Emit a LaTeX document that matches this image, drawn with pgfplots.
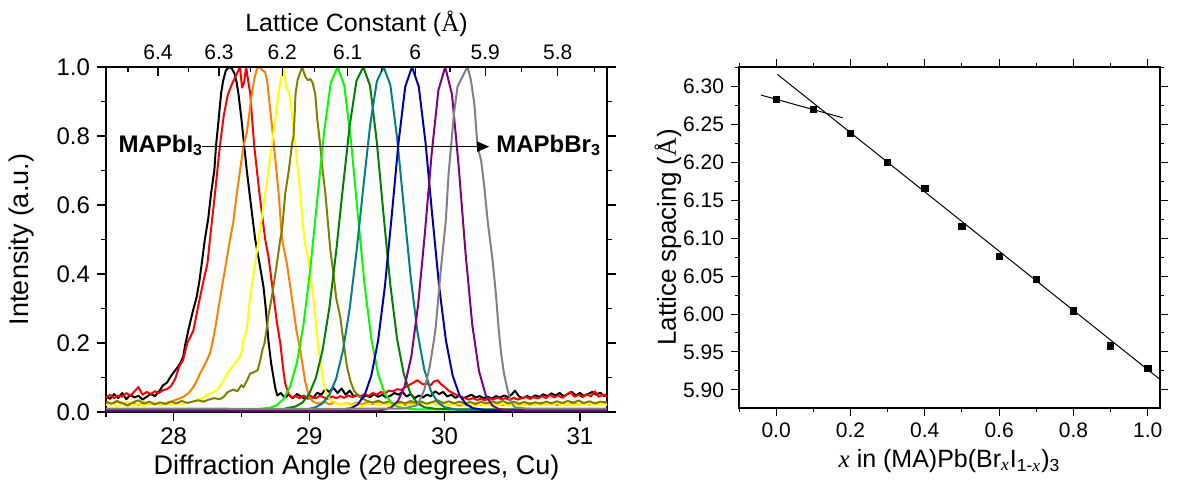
\documentclass[border=0pt]{standalone}
\usepackage{fontspec}
\setmainfont{Liberation Sans}
\newfontfamily\serif{Liberation Serif}
\usepackage{pgfplots}
\pgfplotsset{compat=1.18}
\usetikzlibrary{arrows.meta}
\definecolor{cOrange}{RGB}{255,128,0}
\definecolor{cYellow}{RGB}{255,255,0}
\definecolor{cOlive}{RGB}{128,128,0}
\definecolor{cLime}{RGB}{0,255,0}
\definecolor{cDGreen}{RGB}{0,128,0}
\definecolor{cTeal}{RGB}{0,128,128}
\definecolor{cNavy}{RGB}{0,0,170}
\definecolor{cPurple}{RGB}{128,0,128}
\definecolor{cGray}{RGB}{128,128,128}
\begin{document}
\begin{tikzpicture}
\path[use as bounding box] (0,0) rectangle (597pt,242.5pt);
% ---------------- left panel ----------------
\begin{axis}[at={(53pt,36.5pt)}, anchor=south west, scale only axis,
  width=250.5pt, height=172.5pt,
  xmin=27.5, xmax=31.2, ymin=0, ymax=1,
  xtick={28,29,30,31}, minor xtick={27.5,28.5,29.5,30.5},
  ytick={0,0.2,0.4,0.6,0.8,1.0}, yticklabels={0.0,0.2,0.4,0.6,0.8,1.0},
  minor ytick={0.1,0.3,0.5,0.7,0.9},
  tick align=outside, xtick pos=left, ytick pos=both, yticklabel pos=left,
  major tick length=4.5pt, minor tick length=2.5pt,
  tick style={black, line width=0.6pt}, axis line style={line width=0.8pt},
  /pgf/number format/assume math mode=true,
  tick label style={font=\fontsize{12}{12}\selectfont},
  xlabel={Diffraction Angle (2{\serif θ} degrees, Cu)}, ylabel={Intensity (a.u.)},
  label style={font=\fontsize{13.5}{14}\selectfont},
  xlabel style={at={(axis description cs:0.5,-0.162)}, anchor=center},
  ylabel style={at={(axis description cs:-0.168,0.5)}, anchor=center},
  every axis plot/.append style={line width=1pt, line join=round},
]
\addplot[black] coordinates {
(27.50,0.045) (27.53,0.038) (27.56,0.052) (27.59,0.040) (27.62,0.055) (27.65,0.037) (27.68,0.050) (27.71,0.042) (27.74,0.047) (27.77,0.036)
(27.80,0.044) (27.83,0.052) (27.86,0.046) (27.89,0.058) (27.92,0.077) (27.95,0.085) (27.98,0.104) (28.00,0.115) (28.03,0.130) (28.05,0.142)
(28.07,0.160) (28.085,0.195) (28.11,0.24) (28.14,0.29) (28.17,0.334) (28.19,0.38) (28.207,0.43) (28.23,0.50) (28.255,0.56) (28.276,0.634)
(28.30,0.70) (28.313,0.774) (28.33,0.84) (28.35,0.923) (28.365,0.96) (28.385,0.99) (28.41,1.0) (28.43,0.995) (28.45,0.98) (28.465,0.955)
(28.478,0.923) (28.50,0.85) (28.52,0.774) (28.54,0.70) (28.56,0.634) (28.58,0.57) (28.602,0.50) (28.634,0.43) (28.663,0.363) (28.68,0.30)
(28.70,0.205) (28.72,0.14) (28.737,0.10) (28.75,0.07) (28.765,0.048) (28.79,0.055) (28.82,0.042) (28.85,0.050) (28.88,0.040) (28.91,0.052)
(28.94,0.045) (28.97,0.038) (29.00,0.048) (29.03,0.041) (29.06,0.056) (29.09,0.050) (29.12,0.066) (29.15,0.058) (29.18,0.070) (29.21,0.055)
(29.24,0.068) (29.27,0.050) (29.30,0.062) (29.33,0.045) (29.36,0.050) (29.39,0.040) (29.42,0.048) (29.45,0.043) (29.48,0.052) (29.51,0.044)
(29.54,0.050) (29.57,0.042) (29.60,0.047) (29.63,0.055) (29.66,0.050) (29.69,0.058) (29.72,0.045) (29.75,0.052) (29.78,0.040) (29.81,0.048)
(29.84,0.042) (29.87,0.050) (29.90,0.046) (29.93,0.060) (29.96,0.052) (29.99,0.058) (30.02,0.045) (30.05,0.050) (30.08,0.041) (30.11,0.047)
(30.14,0.040) (30.17,0.045) (30.20,0.050) (30.23,0.042) (30.26,0.046) (30.29,0.040) (30.32,0.044) (30.35,0.039) (30.38,0.046) (30.41,0.042)
(30.44,0.048) (30.47,0.043) (30.50,0.052) (30.52,0.062) (30.55,0.045) (30.58,0.040) (30.61,0.046) (30.64,0.041) (30.67,0.048) (30.70,0.044)
(30.73,0.051) (30.76,0.046) (30.79,0.054) (30.82,0.048) (30.85,0.055) (30.88,0.046) (30.91,0.052) (30.94,0.058) (30.97,0.048) (31.00,0.055)
(31.03,0.046) (31.06,0.052) (31.09,0.058) (31.12,0.050) (31.15,0.056) (31.18,0.046) (31.20,0.052)};
\addplot[red] coordinates {
(27.50,0.042) (27.53,0.050) (27.56,0.040) (27.59,0.048) (27.62,0.044) (27.65,0.055) (27.68,0.046) (27.71,0.060) (27.74,0.072) (27.77,0.050)
(27.80,0.058) (27.83,0.052) (27.86,0.060) (27.89,0.055) (27.92,0.063) (27.95,0.066) (27.98,0.075) (28.01,0.095) (28.04,0.131) (28.07,0.151)
(28.10,0.20) (28.12,0.215) (28.146,0.237) (28.17,0.285) (28.195,0.334) (28.22,0.38) (28.249,0.43) (28.273,0.52) (28.29,0.58) (28.305,0.634)
(28.342,0.774) (28.37,0.86) (28.40,0.92) (28.43,0.95) (28.46,0.975) (28.49,1.0) (28.505,0.94) (28.52,0.955) (28.535,1.0) (28.55,0.96)
(28.565,0.923) (28.594,0.774) (28.633,0.634) (28.676,0.50) (28.70,0.45) (28.738,0.334) (28.762,0.26) (28.787,0.20) (28.81,0.12) (28.824,0.082)
(28.848,0.053) (28.87,0.042) (28.90,0.046) (28.93,0.040) (28.96,0.048) (28.99,0.038) (29.02,0.044) (29.05,0.040) (29.08,0.047) (29.11,0.042)
(29.14,0.038) (29.17,0.045) (29.20,0.040) (29.23,0.046) (29.26,0.041) (29.29,0.048) (29.32,0.043) (29.35,0.050) (29.38,0.045) (29.41,0.052)
(29.44,0.047) (29.47,0.055) (29.50,0.050) (29.53,0.058) (29.56,0.054) (29.59,0.062) (29.62,0.060) (29.65,0.066) (29.68,0.064) (29.71,0.072)
(29.74,0.078) (29.77,0.085) (29.80,0.092) (29.82,0.086) (29.84,0.080) (29.87,0.082) (29.90,0.078) (29.92,0.088) (29.95,0.092) (29.97,0.082)
(30.00,0.073) (30.03,0.062) (30.06,0.055) (30.09,0.049) (30.12,0.044) (30.15,0.040) (30.18,0.036) (30.21,0.040) (30.24,0.035) (30.27,0.038)
(30.30,0.034) (30.33,0.040) (30.36,0.036) (30.39,0.042) (30.42,0.037) (30.45,0.040) (30.48,0.035) (30.51,0.041) (30.54,0.036) (30.57,0.040)
(30.60,0.044) (30.63,0.038) (30.66,0.043) (30.69,0.039) (30.72,0.046) (30.75,0.040) (30.78,0.050) (30.81,0.042) (30.84,0.048) (30.87,0.041)
(30.90,0.050) (30.93,0.058) (30.96,0.044) (30.99,0.050) (31.02,0.043) (31.05,0.052) (31.08,0.045) (31.11,0.060) (31.14,0.044) (31.17,0.050)
(31.20,0.046)};
\addplot[cOrange] coordinates {
(27.50,0.028) (27.54,0.022) (27.58,0.030) (27.62,0.024) (27.66,0.018) (27.70,0.026) (27.74,0.020) (27.78,0.028) (27.82,0.022) (27.86,0.027)
(27.90,0.020) (27.94,0.026) (27.98,0.030) (28.02,0.036) (28.05,0.040) (28.08,0.046) (28.11,0.055) (28.145,0.072) (28.17,0.09) (28.194,0.111)
(28.22,0.13) (28.245,0.15) (28.268,0.17) (28.29,0.208) (28.31,0.25) (28.33,0.30) (28.36,0.37) (28.386,0.43) (28.416,0.50) (28.44,0.55)
(28.465,0.63) (28.49,0.70) (28.515,0.77) (28.54,0.81) (28.56,0.87) (28.577,0.923) (28.595,0.965) (28.615,0.995) (28.635,1.0) (28.655,0.99)
(28.675,0.985) (28.69,0.96) (28.70,0.923) (28.72,0.85) (28.74,0.774) (28.775,0.634) (28.80,0.50) (28.836,0.43) (28.873,0.33) (28.905,0.24)
(28.935,0.179) (28.97,0.09) (29.00,0.043) (29.03,0.030) (29.07,0.024) (29.11,0.030) (29.15,0.022) (29.19,0.028) (29.23,0.020) (29.27,0.026)
(29.31,0.021) (29.35,0.027) (29.39,0.022) (29.43,0.028) (29.47,0.023) (29.51,0.030) (29.55,0.024) (29.59,0.029) (29.63,0.022) (29.67,0.027)
(29.71,0.020) (29.75,0.026) (29.79,0.021) (29.83,0.028) (29.87,0.022) (29.91,0.027) (29.95,0.020) (29.99,0.025) (30.03,0.019) (30.07,0.024)
(30.11,0.018) (30.15,0.023) (30.19,0.019) (30.23,0.025) (30.27,0.020) (30.31,0.026) (30.35,0.021) (30.39,0.027) (30.43,0.020) (30.47,0.025)
(30.51,0.019) (30.55,0.024) (30.59,0.020) (30.63,0.026) (30.67,0.021) (30.71,0.027) (30.75,0.022) (30.79,0.026) (30.83,0.020) (30.87,0.025)
(30.91,0.021) (30.95,0.027) (30.99,0.022) (31.03,0.026) (31.07,0.021) (31.11,0.027) (31.15,0.022) (31.20,0.025)};
\addplot[cYellow] coordinates {
(27.50,0.020) (27.54,0.025) (27.58,0.016) (27.62,0.022) (27.66,0.030) (27.70,0.018) (27.74,0.024) (27.78,0.017) (27.82,0.023) (27.86,0.028)
(27.90,0.019) (27.94,0.025) (27.98,0.020) (28.02,0.026) (28.06,0.021) (28.10,0.028) (28.14,0.030) (28.17,0.034) (28.21,0.040) (28.245,0.049)
(28.28,0.055) (28.32,0.063) (28.36,0.085) (28.393,0.111) (28.43,0.13) (28.467,0.148) (28.49,0.16) (28.503,0.175) (28.515,0.208) (28.54,0.24)
(28.565,0.334) (28.59,0.40) (28.609,0.45) (28.626,0.50) (28.65,0.56) (28.676,0.634) (28.70,0.70) (28.725,0.774) (28.75,0.85) (28.774,0.923)
(28.79,0.96) (28.805,0.99) (28.811,1.0) (28.82,0.965) (28.835,0.935) (28.85,0.93) (28.865,0.89) (28.88,0.84) (28.898,0.774) (28.935,0.634)
(28.965,0.50) (29.00,0.43) (29.03,0.334) (29.056,0.237) (29.07,0.18) (29.085,0.14) (29.108,0.082) (29.13,0.05) (29.157,0.034) (29.19,0.027)
(29.23,0.020) (29.27,0.026) (29.31,0.018) (29.35,0.024) (29.39,0.017) (29.43,0.023) (29.47,0.028) (29.51,0.019) (29.55,0.024) (29.59,0.018)
(29.63,0.025) (29.67,0.020) (29.71,0.027) (29.75,0.019) (29.79,0.024) (29.83,0.030) (29.87,0.021) (29.91,0.026) (29.95,0.019) (29.99,0.025)
(30.03,0.018) (30.07,0.023) (30.11,0.027) (30.15,0.019) (30.19,0.024) (30.23,0.017) (30.27,0.022) (30.31,0.018) (30.35,0.024) (30.39,0.019)
(30.43,0.025) (30.47,0.018) (30.51,0.023) (30.55,0.017) (30.59,0.022) (30.63,0.018) (30.67,0.024) (30.71,0.019) (30.75,0.025) (30.79,0.020)
(30.83,0.026) (30.87,0.019) (30.91,0.024) (30.95,0.018) (30.99,0.023) (31.03,0.020) (31.07,0.025) (31.11,0.019) (31.15,0.024) (31.20,0.020)};
\addplot[cOlive] coordinates {
(27.50,0.030) (27.54,0.024) (27.58,0.032) (27.62,0.026) (27.66,0.020) (27.70,0.028) (27.74,0.034) (27.78,0.024) (27.82,0.030) (27.86,0.022)
(27.90,0.028) (27.94,0.023) (27.98,0.030) (28.02,0.025) (28.06,0.032) (28.10,0.026) (28.14,0.030) (28.18,0.034) (28.22,0.030) (28.26,0.036)
(28.30,0.040) (28.34,0.037) (28.37,0.044) (28.40,0.058) (28.44,0.065) (28.47,0.060) (28.50,0.078) (28.515,0.072) (28.54,0.090) (28.564,0.111)
(28.59,0.115) (28.62,0.121) (28.64,0.151) (28.655,0.18) (28.67,0.198) (28.685,0.237) (28.70,0.28) (28.725,0.334) (28.762,0.43) (28.787,0.50)
(28.80,0.527) (28.824,0.634) (28.85,0.70) (28.873,0.774) (28.885,0.80) (28.893,0.86) (28.90,0.923) (28.915,0.962) (28.93,0.98) (28.949,1.0)
(28.96,0.985) (28.975,0.97) (28.99,0.962) (29.01,0.965) (29.025,0.955) (29.045,0.923) (29.06,0.85) (29.082,0.774) (29.10,0.70) (29.12,0.634)
(29.157,0.469) (29.18,0.40) (29.20,0.33) (29.23,0.276) (29.255,0.20) (29.28,0.131) (29.305,0.09) (29.33,0.063) (29.36,0.048) (29.39,0.040)
(29.43,0.032) (29.47,0.027) (29.51,0.033) (29.55,0.026) (29.59,0.031) (29.63,0.024) (29.67,0.030) (29.71,0.025) (29.75,0.032) (29.79,0.026)
(29.83,0.030) (29.87,0.024) (29.91,0.029) (29.95,0.034) (29.99,0.026) (30.03,0.031) (30.07,0.025) (30.11,0.030) (30.15,0.024) (30.19,0.029)
(30.23,0.023) (30.27,0.030) (30.31,0.025) (30.35,0.031) (30.39,0.026) (30.43,0.032) (30.47,0.025) (30.51,0.030) (30.55,0.024) (30.59,0.029)
(30.63,0.023) (30.67,0.028) (30.71,0.024) (30.75,0.030) (30.79,0.025) (30.83,0.031) (30.87,0.026) (30.91,0.032) (30.95,0.027) (30.99,0.033)
(31.03,0.026) (31.07,0.031) (31.11,0.025) (31.15,0.030) (31.20,0.028)};
\addplot[cLime] coordinates {
(27.5,0.008) (28.0,0.007) (28.5,0.008) (28.61,0.008) (28.71,0.012) (28.76,0.019) (28.81,0.037) (28.86,0.074) (28.91,0.143) (28.96,0.257)
(29.01,0.419) (29.06,0.615) (29.11,0.809) (29.16,0.954) (29.21,1.0) (29.26,0.946) (29.31,0.783) (29.36,0.571) (29.41,0.368) (29.46,0.211)
(29.51,0.109) (29.56,0.052) (29.61,0.025) (29.66,0.014) (29.76,0.008) (30.3,0.007) (31.2,0.008)};
\addplot[cDGreen] coordinates {
(27.5,0.007) (28.5,0.008) (28.80,0.008) (28.90,0.016) (28.95,0.027) (29.00,0.052) (29.05,0.099) (29.10,0.180) (29.15,0.303) (29.20,0.466)
(29.25,0.652) (29.30,0.831) (29.35,0.960) (29.40,1.0) (29.45,0.946) (29.50,0.783) (29.55,0.571) (29.60,0.368) (29.65,0.211) (29.70,0.109)
(29.75,0.052) (29.80,0.025) (29.85,0.014) (29.95,0.008) (31.2,0.007)};
\addplot[cTeal] coordinates {
(27.5,0.006) (28.9,0.006) (29.00,0.009) (29.05,0.014) (29.10,0.025) (29.15,0.050) (29.20,0.097) (29.25,0.178) (29.30,0.301) (29.35,0.464)
(29.40,0.650) (29.45,0.829) (29.50,0.958) (29.55,1.0) (29.60,0.948) (29.65,0.794) (29.70,0.592) (29.75,0.392) (29.80,0.232) (29.85,0.124)
(29.90,0.060) (29.95,0.028) (30.00,0.014) (30.10,0.006) (31.2,0.006)};
\addplot[cNavy] coordinates {
(27.5,0.005) (29.21,0.005) (29.31,0.011) (29.36,0.022) (29.41,0.049) (29.46,0.106) (29.51,0.208) (29.56,0.365) (29.61,0.568) (29.66,0.780)
(29.71,0.943) (29.76,1.0) (29.81,0.943) (29.86,0.780) (29.91,0.568) (29.96,0.365) (30.01,0.208) (30.06,0.106) (30.11,0.049) (30.16,0.022)
(30.21,0.011) (30.31,0.005) (31.2,0.005)};
\addplot[cPurple] coordinates {
(27.5,0.004) (29.50,0.004) (29.555,0.007) (29.605,0.013) (29.655,0.031) (29.705,0.074) (29.755,0.161) (29.805,0.310) (29.855,0.518) (29.905,0.748)
(29.955,0.933) (30.005,1.0) (30.055,0.921) (30.105,0.711) (30.155,0.462) (30.205,0.253) (30.255,0.118) (30.305,0.048) (30.355,0.018) (30.405,0.008)
(30.50,0.004) (31.2,0.004)};
\addplot[cGray] coordinates {
(27.5,0.010) (29.0,0.009) (29.70,0.010) (29.80,0.020) (29.85,0.063) (29.89,0.13) (29.922,0.208) (29.935,0.246) (29.97,0.401) (30.01,0.556)
(30.03,0.69) (30.07,0.865) (30.096,0.943) (30.145,0.982) (30.17,1.0) (30.195,0.962) (30.22,0.894) (30.244,0.769) (30.27,0.73) (30.294,0.653)
(30.318,0.556) (30.355,0.44) (30.38,0.34) (30.40,0.24) (30.418,0.17) (30.44,0.11) (30.466,0.063) (30.49,0.03) (30.52,0.013) (30.6,0.010)
(31.2,0.010)};
\draw[black, line width=0.8pt, -{Triangle[length=6pt,width=5pt]}] (axis cs:28.207,0.769) -- (axis cs:30.33,0.769);
\node[anchor=base east, inner sep=0pt, font=\fontsize{12}{12}\bfseries\selectfont] at (axis cs:28.22,0.753) {MAPbI\textsubscript{3}};
\node[anchor=base west, inner sep=0pt, font=\fontsize{12}{12}\bfseries\selectfont] at (axis cs:30.38,0.753) {MAPbBr\textsubscript{3}};
\end{axis}
% top axis: lattice constant
\begin{axis}[at={(53pt,36.5pt)}, anchor=south west, scale only axis,
  width=250.5pt, height=172.5pt,
  xmin=27.5, xmax=31.2, ymin=0, ymax=1,
  axis x line*=top, hide y axis,
  xtick={27.884,28.335,28.802,29.285,29.784,30.301,30.836},
  xticklabels={6.4,6.3,6.2,6.1,6,5.9,5.8},
  minor xtick={27.662,28.108,28.567,29.042,29.533,30.041,30.567,31.11},
  tick align=inside, major tick length=4.5pt, minor tick length=2.5pt,
  tick style={black, line width=0.6pt}, axis line style={line width=0.8pt},
  tick label style={font=\fontsize{10.5}{10.5}\selectfont},
  xlabel={Lattice Constant ({\serif Å})},
  xlabel style={font=\fontsize{12.5}{13}\selectfont, at={(axis description cs:0.5,1.125)}, anchor=center},
]
\end{axis}
% ---------------- right panel ----------------
\begin{axis}[at={(369.5pt,38.5pt)}, anchor=south west, scale only axis,
  width=210.5pt, height=170.5pt,
  xmin=-0.1, xmax=1.033, ymin=5.876, ymax=6.326,
  xtick={0,0.2,0.4,0.6,0.8,1.0}, xticklabels={0.0,0.2,0.4,0.6,0.8,1.0},
  minor xtick={-0.1,0.1,0.3,0.5,0.7,0.9},
  ytick={5.90,5.95,6.00,6.05,6.10,6.15,6.20,6.25,6.30},
  yticklabels={5.90,5.95,6.00,6.05,6.10,6.15,6.20,6.25,6.30},
  minor ytick={5.925,5.975,6.025,6.075,6.125,6.175,6.225,6.275,6.325},
  tick align=outside, xtick pos=both, ytick pos=both, xticklabel pos=left, yticklabel pos=left,
  major tick length=4pt, minor tick length=2.2pt,
  tick style={black, line width=0.5pt}, axis line style={line width=0.7pt},
  /pgf/number format/assume math mode=true,
  tick label style={font=\fontsize{10.5}{10.5}\selectfont},
  xlabel={{\serif\itshape x} in (MA)Pb(Br\textsubscript{{\serif\itshape x}}I\textsubscript{1-{\serif\itshape x}})\textsubscript{3}},
  ylabel={Lattice spacing ({\serif Å})},
  xlabel style={font=\fontsize{12.5}{13}\selectfont, at={(axis description cs:0.5,-0.155)}, anchor=center},
  ylabel style={font=\fontsize{13}{13}\selectfont, at={(axis description cs:-0.169,0.5)}, anchor=center},
]
\addplot[black, line width=0.5pt] coordinates {(0.003,6.3164) (1.033,5.9137)};
\addplot[black, line width=0.5pt] coordinates {(-0.041,6.289) (0.179,6.259)};
\addplot[black, only marks, mark=square*, mark size=1.6pt] coordinates {
(0,6.283) (0.1,6.270) (0.2,6.238) (0.3,6.200) (0.4,6.166) (0.5,6.116)
(0.6,6.076) (0.7,6.046) (0.8,6.004) (0.9,5.958) (1.0,5.928)};
\end{axis}
\end{tikzpicture}
\end{document}
